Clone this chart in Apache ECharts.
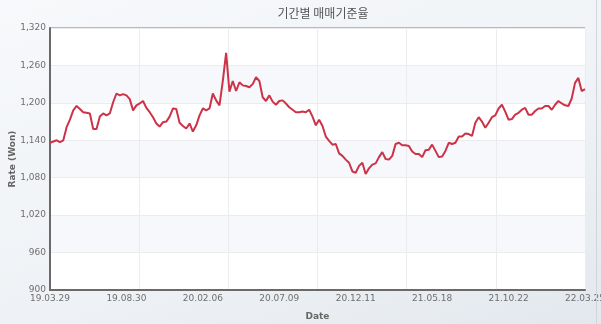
<!DOCTYPE html>
<html>
<head>
<meta charset="utf-8">
<script src="https://cdn.jsdelivr.net/npm/echarts@6/dist/echarts.min.js"></script>
<style>
html,body{margin:0;padding:0;}
body{width:601px;height:324px;overflow:hidden;background:linear-gradient(160deg,#f7f9fb 0%,#eef2f6 60%,#e3e8ee 100%);}
#c{width:601px;height:324px;}
#edge{position:absolute;left:596px;top:0;width:1px;height:324px;background:#cfd5dc;}
</style>
</head>
<body>
<div id="c"></div>
<div id="edge"></div>
<script>
// Tick labels on the date axis (7 equal steps of trading days)
const tickLabels = ['19.03.29','19.08.30','20.02.06','20.07.09','20.12.11','21.05.18','21.10.22','22.03.25'];
const stepPerTick = 23;
// Exchange rate (Won), equally spaced in time
const rates = [
1136,1138,1140,1137,1140,1161,1173,1188,1195,1190,
1185,1184,1183,1158,1158,1178,1183,1180,1183,1201,
1215,1212,1214,1212,1206,1188,1196,1199,1203,1192,
1185,1177,1167,1162,1169,1170,1178,1191,1190,1168,
1163,1159,1167,1154,1164,1180,1191,1188,1191,1215,
1204,1196,1235,1280,1218,1235,1219,1233,1228,1227,
1225,1230,1241,1235,1209,1203,1212,1202,1197,1203,
1204,1199,1193,1189,1185,1185,1186,1185,1189,1178,
1164,1173,1163,1146,1139,1133,1134,1119,1115,1109,
1104,1090,1088,1099,1104,1086,1095,1101,1103,1113,
1121,1110,1109,1115,1134,1136,1132,1132,1131,1122,
1118,1118,1113,1124,1125,1133,1123,1113,1114,1123,
1136,1134,1136,1146,1146,1151,1150,1147,1168,1177,
1170,1160,1168,1177,1180,1191,1197,1186,1173,1174,
1181,1184,1189,1192,1181,1181,1187,1191,1191,1195,
1195,1189,1197,1203,1199,1196,1195,1207,1232,1240,
1219,1222
];
const categories = rates.map((v, i) => (i % stepPerTick === 0 ? tickLabels[i / stepPerTick] : ''));

const chart = echarts.init(document.getElementById('c'), null, {renderer: 'canvas'});
const lab = {fontFamily: 'DejaVu Sans', fontSize: 9, color: '#6e6e6e'};
chart.setOption({
  animation: false,
  backgroundColor: 'transparent',
  title: {
    text: '기간별 매매기준율',
    left: 318, top: 2, textAlign: 'center',
    textStyle: {fontFamily: 'Noto Sans CJK KR', fontSize: 12, fontWeight: 'normal', color: '#555'}
  },
  grid: {left: 50, right: 16, top: 28, bottom: 34, outerBoundsMode: 'none', containLabel: false,
         show: true, backgroundColor: '#fff', borderColor: '#7a7a7a', borderWidth: 1},
  xAxis: [{
    type: 'category', data: categories, boundaryGap: false,
    name: 'Date', nameLocation: 'middle', nameGap: 22, nameMoveOverlap: false,
    nameTextStyle: {fontFamily: 'DejaVu Sans', fontSize: 9, fontWeight: 'bold', color: '#666'},
    axisLine: {lineStyle: {color: '#6a6a6a', width: 2}},
    axisTick: {show: false},
    axisLabel: Object.assign({interval: stepPerTick - 1, margin: 4, showMaxLabel: true, hideOverlap: false}, lab),
    splitLine: {show: false}
  }, {
    type: 'value', min: 0, max: 6, interval: 1, position: 'bottom',
    axisLine: {show: false}, axisTick: {show: false}, axisLabel: {show: false},
    splitLine: {show: true, lineStyle: {color: '#ececef', width: 1}}
  }],
  yAxis: {
    type: 'value', min: 900, max: 1320, interval: 60,
    name: 'Rate (Won)', nameLocation: 'middle', nameGap: 33, nameMoveOverlap: false,
    nameTextStyle: {fontFamily: 'DejaVu Sans', fontSize: 9, fontWeight: 'bold', color: '#666'},
    axisLine: {show: true, lineStyle: {color: '#6a6a6a', width: 2}},
    axisTick: {show: false},
    axisLabel: Object.assign({margin: 4}, lab),
    splitLine: {show: true, lineStyle: {color: '#ececef', width: 1}},
    splitArea: {show: true, areaStyle: {color: ['#ffffff', '#f7f8fb']}}
  },
  series: [{
    type: 'line', data: rates, xAxisIndex: 0, showSymbol: false, symbol: 'none',
    lineStyle: {color: '#cc3348', width: 2}
  }]
});
</script>
</body>
</html>
